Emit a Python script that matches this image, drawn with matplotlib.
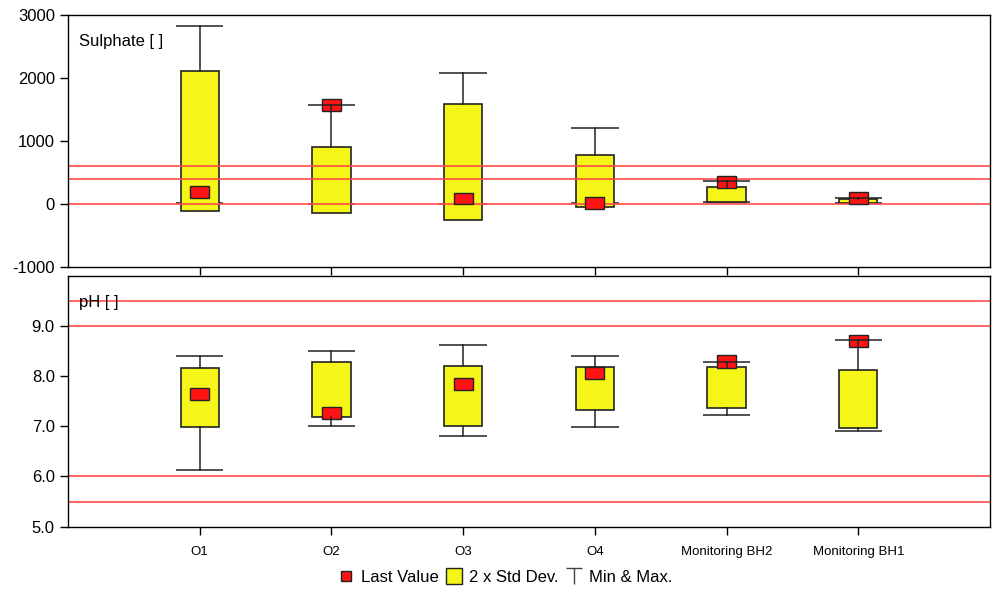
import matplotlib
matplotlib.use("Agg")
import matplotlib.pyplot as plt
from matplotlib.lines import Line2D
from matplotlib.path import Path
from matplotlib.patches import Rectangle

plt.rcParams['font.family'] = ['Liberation Sans', 'DejaVu Sans']
plt.rcParams['font.size'] = 12
plt.rcParams['axes.unicode_minus'] = False

sites = ["O1", "O2", "O3", "O4", "Monitoring BH2", "Monitoring BH1"]

# sulphate: min, max, box low/high (2 x std dev), last value
so4_min = [20, 0, 0, 20, 32, 11]
so4_max = [2830, 1580, 2080, 1210, 356, 90]
so4_lo = [-117, -138, -255, -43, 27, 11]
so4_hi = [2120, 903, 1594, 770, 266, 75]
so4_last = [190, 1567, 85, 15, 350, 99]
so4_limits = [600, 400, 0]

# pH
ph_min = [6.12, 7.0, 6.8, 6.98, 7.22, 6.91]
ph_max = [8.40, 8.49, 8.62, 8.40, 8.28, 8.71]
ph_lo = [6.98, 7.18, 7.0, 7.32, 7.37, 6.96]
ph_hi = [8.16, 8.28, 8.2, 8.18, 8.18, 8.13]
ph_last = [7.64, 7.26, 7.85, 8.07, 8.29, 8.70]
ph_limits = [9.5, 9.0, 6.0, 5.5]

YELLOW = "#f5f518"
RED = "#ff1212"
LINE_RED = "#ff4a4a"
EDGE = "#222222"

box_w = 0.29
cap_w = 0.36
mark_w = 0.145


def draw_panel(ax, mins, maxs, los, his, lasts, limits, mark_h):
    for i in range(len(sites)):
        x = i + 1
        # whiskers: drawn over the box when outside it, behind otherwise
        for ext, edge in ((maxs[i], his[i]), (mins[i], los[i])):
            outside = (ext > his[i]) or (ext < los[i])
            z = 4 if outside else 1.5
            if outside:
                ax.plot([x, x], [edge, ext], color=EDGE, lw=1.1, zorder=z)
            ax.plot([x - cap_w / 2, x + cap_w / 2], [ext, ext], color=EDGE,
                    lw=1.1, zorder=z, solid_capstyle='butt')
        ax.add_patch(Rectangle((x - box_w / 2, los[i]), box_w, his[i] - los[i],
                               facecolor=YELLOW, edgecolor=EDGE, lw=1.2, zorder=2))
        ax.add_patch(Rectangle((x - mark_w / 2, lasts[i] - mark_h / 2), mark_w, mark_h,
                               facecolor=RED, edgecolor=EDGE, lw=1.0, zorder=3))
    for v in limits:
        ax.axhline(v, color=LINE_RED, lw=1.2, zorder=2.5)
    ax.set_xlim(0, 7)
    ax.set_xticks(range(1, len(sites) + 1))
    ax.tick_params(direction='out', length=6, width=1, colors='black', labelsize=12)
    for s in ax.spines.values():
        s.set_linewidth(1.0)


fig = plt.figure(figsize=(9.96, 5.89), dpi=100)
ax1 = fig.add_axes([0.0683, 0.5472, 0.9257, 0.4268])
ax2 = fig.add_axes([0.0683, 0.1058, 0.9257, 0.4262])

draw_panel(ax1, so4_min, so4_max, so4_lo, so4_hi, so4_last, so4_limits, 190)
ax1.set_ylim(-1000, 3000)
ax1.set_yticks([-1000, 0, 1000, 2000, 3000])
ax1.set_xticklabels([])
ax1.text(0.012, 0.895, "Sulphate [ ]", transform=ax1.transAxes, va='center', fontsize=12)

draw_panel(ax2, ph_min, ph_max, ph_lo, ph_hi, ph_last, ph_limits, 0.24)
ax2.set_ylim(5, 10)
ax2.set_yticks([5, 6, 7, 8, 9])
ax2.set_yticklabels(["5.0", "6.0", "7.0", "8.0", "9.0"])
ax2.set_xticklabels(sites)
ax2.tick_params(axis='x', pad=8, labelsize=9.5)
ax2.text(0.012, 0.895, "pH [ ]", transform=ax2.transAxes, va='center', fontsize=12)

# legend
t_marker = Path([(-1, 1), (1, 1), (0, 1), (0, -1)],
                [Path.MOVETO, Path.LINETO, Path.MOVETO, Path.LINETO])
handles = [
    Line2D([], [], ls='none', marker='s', markersize=7, markerfacecolor=RED,
           markeredgecolor=EDGE, markeredgewidth=1.0),
    Line2D([], [], ls='none', marker='s', markersize=12, markerfacecolor=YELLOW,
           markeredgecolor=EDGE, markeredgewidth=1.0),
    Line2D([], [], ls='none', marker=t_marker, markersize=11, markeredgecolor='#444444',
           markerfacecolor='none', markeredgewidth=1.0),
]
fig.legend(handles, ["Last Value", "2 x Std Dev.", "Min & Max."], loc='center',
           bbox_to_anchor=(0.507, 0.019), ncol=3, frameon=False, handlelength=1.0,
           handletextpad=0.4, columnspacing=0.4, fontsize=12)

fig.savefig("out.png", dpi=100)
